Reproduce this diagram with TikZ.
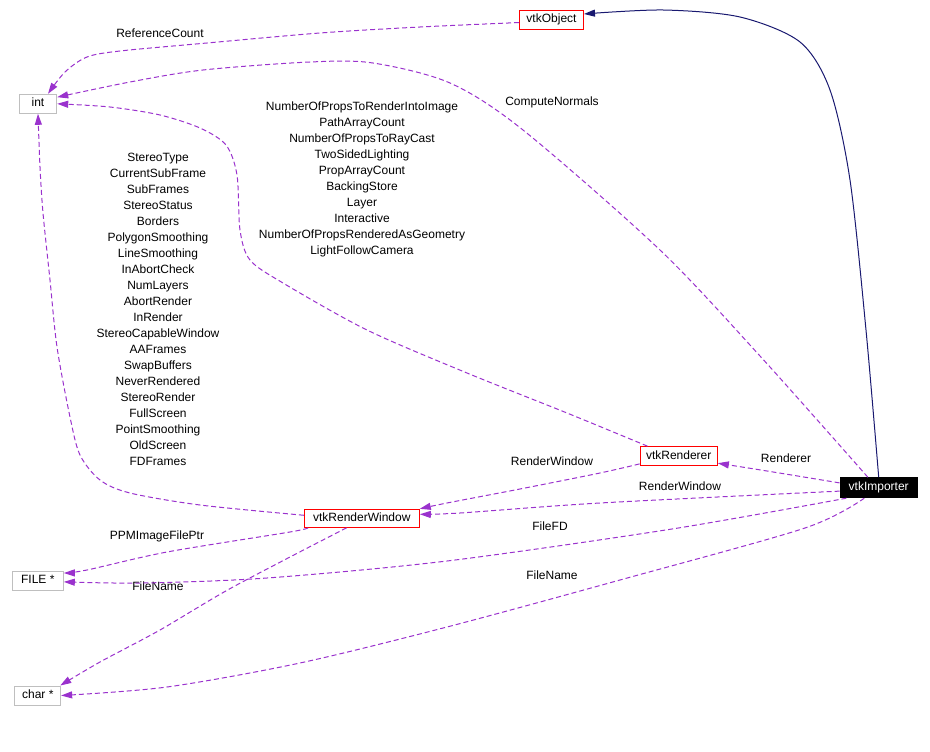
\documentclass[tikz,border=0pt]{standalone}
\usepackage{fontspec}
\setmainfont{Liberation Sans}
\usetikzlibrary{arrows.meta}
\definecolor{edgepurple}{HTML}{9A32CD}
\definecolor{inhnavy}{HTML}{191970}
\definecolor{boxgray}{HTML}{BFBFBF}
\begin{document}
\begin{tikzpicture}[x=1pt,y=-1pt,
  every node/.style={font=\fontsize{12}{16}\selectfont, inner sep=0pt},
  box/.style={draw, line width=1pt, text height=8.8pt, text depth=2.5pt, align=center},
  cls/.style={box, draw=red},
  ext/.style={box, draw=boxgray},
  sel/.style={box, draw=black, fill=black, text=white},
  dep/.style={edgepurple, line width=1pt, dash pattern=on 5pt off 3pt, -{Triangle[length=11pt,width=7pt]}},
  inh/.style={inhnavy, line width=1pt, -{Triangle[length=11pt,width=7pt]}},
  lbl/.style={anchor=base},
  lst/.style={anchor=north, align=center},
]
\useasboundingbox (0,0) rectangle (930,752);

% nodes
\node[cls, minimum width=64pt, minimum height=19pt] (obj) at (551.5,19.7) {vtkObject};
\node[ext, minimum width=37.4pt, minimum height=19pt] (int) at (38,103.8) {int};
\node[ext, minimum width=51pt, minimum height=19pt] (file) at (37.8,580.5) {FILE *};
\node[ext, minimum width=45.7pt, minimum height=19pt] (charp) at (37.8,695.5) {char *};
\node[cls, minimum width=115pt, minimum height=18pt] (rw) at (361.8,518.3) {vtkRenderWindow};
\node[cls, minimum width=77.3pt, minimum height=19.3pt] (rend) at (678.7,456.3) {vtkRenderer};
\node[sel, minimum width=77.3pt, minimum height=20pt] (imp) at (878.7,487.7) {vtkImporter};

% labels
\node[lbl] (lRef) at (160,37.7) {ReferenceCount};
\node[lbl] (lCN) at (552,106) {ComputeNormals};
\node[lst] (lRend) at (362,101.8) {NumberOfPropsToRenderIntoImage\\PathArrayCount\\NumberOfPropsToRayCast\\TwoSidedLighting\\PropArrayCount\\BackingStore\\Layer\\Interactive\\NumberOfPropsRenderedAsGeometry\\LightFollowCamera};
\node[lst] (lRW) at (158,153) {StereoType\\CurrentSubFrame\\SubFrames\\StereoStatus\\Borders\\PolygonSmoothing\\LineSmoothing\\InAbortCheck\\NumLayers\\AbortRender\\InRender\\StereoCapableWindow\\AAFrames\\SwapBuffers\\NeverRendered\\StereoRender\\FullScreen\\PointSmoothing\\OldScreen\\FDFrames};
\node[lbl] (lRen) at (786,462.7) {Renderer};
\node[lbl] (lRW1) at (552,465.5) {RenderWindow};
\node[lbl] (lRW2) at (680,490.7) {RenderWindow};
\node[lbl] (lPPM) at (157,539) {PPMImageFilePtr};
\node[lbl] (lFD) at (550,530.5) {FileFD};
\node[lbl] (lFN1) at (158,590.7) {FileName};
\node[lbl] (lFN2) at (552,579.5) {FileName};

% inheritance
\draw[inh] plot[smooth, tension=0.5] coordinates {(imp.north) (866,330) (850,180) (830,90) (800,42) (740,17) (663,10) (obj.10)};

% usage edges
\draw[dep] plot[smooth] coordinates {(obj.185) (420,27) (320,33) (207,43) (120,51) (87,57) (65,72) (int.45)};
\draw[dep] plot[smooth] coordinates {(imp.136) (760,356) (660,250) (523,130) (450,83) (373,63) (310,62) (203,70) (130,82) (int.19)};
\draw[dep] plot[smooth] coordinates {(rend.162) (567,413) (467,373) (367,330) (283,283) (250,260) (240,230) (237,175) (226,145) (200,128) (160,115) (110,107) (int.east)};
\draw[dep] plot[smooth] coordinates {(rw.177) (200,505) (130,493) (100,480) (80,455) (70,417) (57,347) (50,280) (43,213) (40,167) (int.south)};
\draw[dep] plot[smooth] coordinates {(imp.173) (767,471) (rend.-10)};
\draw[dep] plot[smooth] coordinates {(rend.191) (600,473) (520,489) (447,503) (rw.north east)};
\draw[dep] plot[smooth] coordinates {(imp.185) (600,503) (460,513) (rw.4)};
\draw[dep] plot[smooth] coordinates {(rw.190) (290,532) (167,552) (87,570) (file.16)};
\draw[dep] plot[smooth] coordinates {(imp.198) (672,529) (447,561) (267,578) (143,583) (file.-3)};
\draw[dep] plot[smooth] coordinates {(rw.212) (233,587) (160,630) (100,662) (charp.24)};
\draw[dep] plot[smooth] coordinates {(imp.216) (805,528) (620,580) (447,627) (300,663) (167,687) (charp.east)};
\end{tikzpicture}
\end{document}
